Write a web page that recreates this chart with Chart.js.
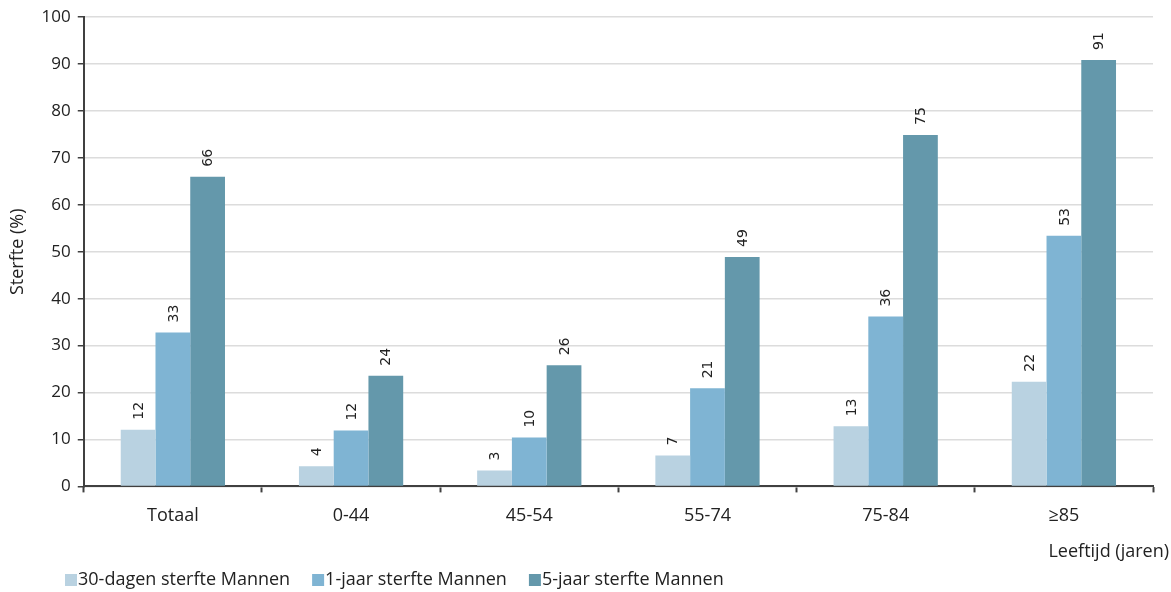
<!DOCTYPE html>
<html>
<head>
<meta charset="utf-8">
<script src="https://cdn.jsdelivr.net/npm/chart.js@4/dist/chart.umd.min.js"></script>
<style>
html,body{margin:0;padding:0;background:#fff;}
#wrap{width:1171px;height:592px;position:relative;}
</style>
</head>
<body>
<div id="wrap"><canvas id="c" width="1171" height="592"></canvas></div>
<script>
const categories = ["Totaal", "0-44", "45-54", "55-74", "75-84", "≥85"];
const seriesNames = ["30-dagen sterfte Mannen", "1-jaar sterfte Mannen", "5-jaar sterfte Mannen"];
const dag30 = [12.1, 4.3, 3.4, 6.6, 12.8, 22.3];
const jaar1 = [32.8, 11.9, 10.4, 20.9, 36.2, 53.4];
const jaar5 = [66.0, 23.6, 25.8, 48.9, 74.9, 90.9];
const yTicks = [0, 10, 20, 30, 40, 50, 60, 70, 80, 90, 100];
const colors = ["#b9d2e1", "#7fb4d3", "#6498ab"];
const FONT = "'Open Sans', 'Noto Sans', sans-serif";

const labelPlugin = {
  id: 'barLabels',
  afterDatasetsDraw(chart) {
    const ctx = chart.ctx;
    ctx.save();
    ctx.font = "14px 'DejaVu Sans', sans-serif";
    ctx.fillStyle = "#222";
    ctx.textAlign = "left";
    ctx.textBaseline = "middle";
    chart.data.datasets.forEach((ds, i) => {
      const meta = chart.getDatasetMeta(i);
      meta.data.forEach((bar, j) => {
        const v = Math.round(ds.data[j]);
        ctx.save();
        ctx.translate(bar.x, bar.y - 10);
        ctx.rotate(-Math.PI / 2);
        ctx.fillText(String(v), 0, 1);
        ctx.restore();
      });
    });
    ctx.restore();
  },
  afterDraw(chart) {
    const ctx = chart.ctx;
    ctx.save();
    ctx.font = "18px " + FONT;
    ctx.fillStyle = "#222";
    ctx.textBaseline = "middle";
    ctx.textAlign = "right";
    ctx.fillText("Leeftijd (jaren)", 1169, 552);
    // legend
    ctx.textAlign = "left";
    let x = 65;
    const y = 580;
    chart.data.datasets.forEach(ds => {
      ctx.fillStyle = ds.backgroundColor;
      ctx.fillRect(x, y - 6, 12, 12);
      ctx.fillStyle = "#222";
      ctx.fillText(ds.label, x + 13, y);
      x += 13 + ctx.measureText(ds.label).width + 22;
    });
    ctx.restore();
  }
};

new Chart(document.getElementById('c'), {
  type: 'bar',
  data: {
    labels: categories,
    datasets: [
      { label: seriesNames[0], data: dag30, backgroundColor: colors[0] },
      { label: seriesNames[1], data: jaar1, backgroundColor: colors[1] },
      { label: seriesNames[2], data: jaar5, backgroundColor: colors[2] }
    ]
  },
  options: {
    responsive: false,
    animation: false,
    devicePixelRatio: 1,
    layout: { padding: { left: 3, right: 18, top: 8, bottom: 52 } },
    datasets: { bar: { categoryPercentage: 0.585, barPercentage: 1.0, borderWidth: 0 } },
    plugins: {
      legend: { display: false },
      tooltip: { enabled: false }
    },
    scales: {
      x: {
        offset: true,
        grid: {
          offset: true, drawOnChartArea: false, drawTicks: true,
          tickLength: 6, tickColor: '#404040', tickWidth: 2
        },
        border: { display: true, color: '#404040', width: 2 },
        ticks: { color: '#222', font: { size: 18, family: FONT }, padding: 13 }
      },
      y: {
        min: 0, max: 100,
        afterBuildTicks(scale) { scale.ticks = yTicks.map(v => ({ value: v })); },
        grid: { color: '#dcdcdc', lineWidth: 1.5, tickLength: 6, tickColor: '#404040' },
        border: { display: true, color: '#404040', width: 2 },
        ticks: { color: '#222', font: { size: 17, family: FONT }, padding: 7 },
        title: { display: true, text: 'Sterfte (%)', color: '#222', font: { size: 18, family: FONT }, padding: { bottom: 6 } }
      }
    }
  },
  plugins: [labelPlugin]
});
</script>
</body>
</html>
